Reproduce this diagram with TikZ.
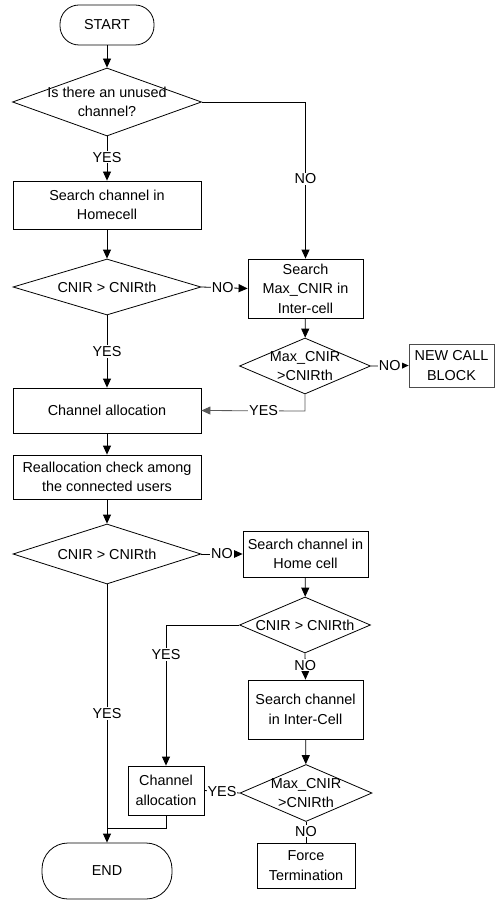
\documentclass[tikz,border=0pt]{standalone}
\usepackage{fontspec}
\setmainfont{Liberation Sans}
\usetikzlibrary{shapes.geometric,arrows.meta}
\begin{document}
\begin{tikzpicture}[x=1pt,y=-1pt,
  every node/.style={font=\fontsize{14.4}{19.5}\selectfont, inner sep=0pt, align=center},
  proc/.style={draw, line width=0.8pt, rectangle},
  term/.style={draw, line width=0.8pt, rectangle, rounded corners=#1},
  dia/.style={draw, line width=0.8pt, diamond, inner sep=0pt},
  lbl/.style={fill=white, inner sep=1pt},
  conn/.style={line width=0.8pt},
  arr/.style={line width=0.8pt, -{Triangle[length=9pt,width=8pt]}},
]
\useasboundingbox (0,0) rectangle (497,901);

% nodes
\node[term=19pt, minimum width=94pt, minimum height=40pt] (start) at (107,25) {START};
\node[dia, minimum width=189pt, minimum height=68pt] (d1) at (107,102) {};
\node (d1t) at (107,102) {Is there an unused\\channel?};
\node[proc, minimum width=188pt, minimum height=48pt] (b1) at (107,205) {Search channel in\\Homecell};
\node[dia, minimum width=188pt, minimum height=56pt] (d2) at (107,287) {};
\node (d2t) at (107,287) {CNIR > CNIRth};
\node[proc, minimum width=115pt, minimum height=59pt] (b2) at (305.5,288.5) {Search\\Max\_CNIR in\\Inter-cell};
\node[dia, minimum width=131pt, minimum height=56pt] (d3) at (305,366) {};
\node (d3t) at (305,366) {Max\_CNIR\\>CNIRth};
\node[proc, minimum width=85pt, minimum height=43pt, draw=black!70] (ncb) at (451.5,365.5) {NEW CALL\\BLOCK};
\node[proc, minimum width=188pt, minimum height=45pt] (ca1) at (107,410.5) {Channel allocation};
\node[proc, minimum width=188pt, minimum height=44pt] (ra) at (107,477) {Reallocation check among\\the connected users};
\node[dia, minimum width=188pt, minimum height=60pt] (d4) at (107,554) {};
\node (d4t) at (107,554) {CNIR > CNIRth};
\node[proc, minimum width=125pt, minimum height=46pt] (b3) at (305.5,554) {Search channel in\\Home cell};
\node[dia, minimum width=131pt, minimum height=56pt] (d5) at (305,625) {};
\node (d5t) at (305,625) {CNIR > CNIRth};
\node[proc, minimum width=115pt, minimum height=59pt] (b4) at (305.5,709.5) {Search channel\\in Inter-Cell};
\node[dia, minimum width=132pt, minimum height=57pt] (d6) at (306,793) {};
\node (d6t) at (306,793) {Max\_CNIR\\>CNIRth};
\node[proc, minimum width=76pt, minimum height=49pt] (ca2) at (166,790.5) {Channel\\allocation};
\node[proc, minimum width=98pt, minimum height=45pt] (ft) at (306,865.5) {Force\\Termination};
\node[term=26pt, minimum width=130pt, minimum height=56pt] (end) at (107,871) {END};

\coordinate (c1) at (305.5,102);
\coordinate (c3) at (305,411);
\coordinate (c5) at (166,625);
\coordinate (c7) at (166,828);
\coordinate (c8) at (107,828);

% connectors
\draw[arr] (start) -- (d1);
\draw[arr] (d1.south) -- node[lbl, pos=0.47] (yes1) {YES} (b1.north);
\draw[arr] (d1.east) -- (c1) -- node[lbl, pos=0.49] (no1) {NO} (b2.north);
\draw[arr] (b1) -- (d2);
\draw[arr] (d2.east) -- node[lbl, pos=0.46] (no2) {NO} (b2.west);
\draw[arr] (d2.south) -- node[lbl, pos=0.5] (yes2) {YES} (ca1.north);
\draw[arr] (b2) -- (d3);
\draw[arr] (d3.east) -- node[lbl, pos=0.5] (no3) {NO} (ncb.west);
\draw[arr, draw=black!65] (d3.south) -- (c3) -- node[lbl, pos=0.4] (yes3) {YES} (ca1.east);
\draw[arr] (ca1) -- (ra);
\draw[arr] (ra) -- (d4);
\draw[arr] (d4.east) -- node[lbl, pos=0.5] (no4) {NO} (b3.west);
\draw[arr] (b3) -- (d5);
\draw[arr] (d5.west) -- (c5) -- node[lbl, pos=0.21] (yes5) {YES} (ca2.north);
\draw[arr] (d5.south) -- node[lbl, pos=0.45] (no5) {NO} (b4.north);
\draw[arr] (b4) -- (d6);
\draw[conn] (d6.west) -- node[lbl, inner sep=0.5pt, pos=0.5] (yes6) {YES} (ca2.east);
\draw[conn] (d6.south) -- node[lbl, pos=0.45] (no6) {NO} (ft.north);
\draw[arr] (d4.south) -- node[lbl, pos=0.5] (yes4) {YES} (end.north);
\draw[conn] (ca2.south) -- (c7) -- (c8);
\end{tikzpicture}
\end{document}
